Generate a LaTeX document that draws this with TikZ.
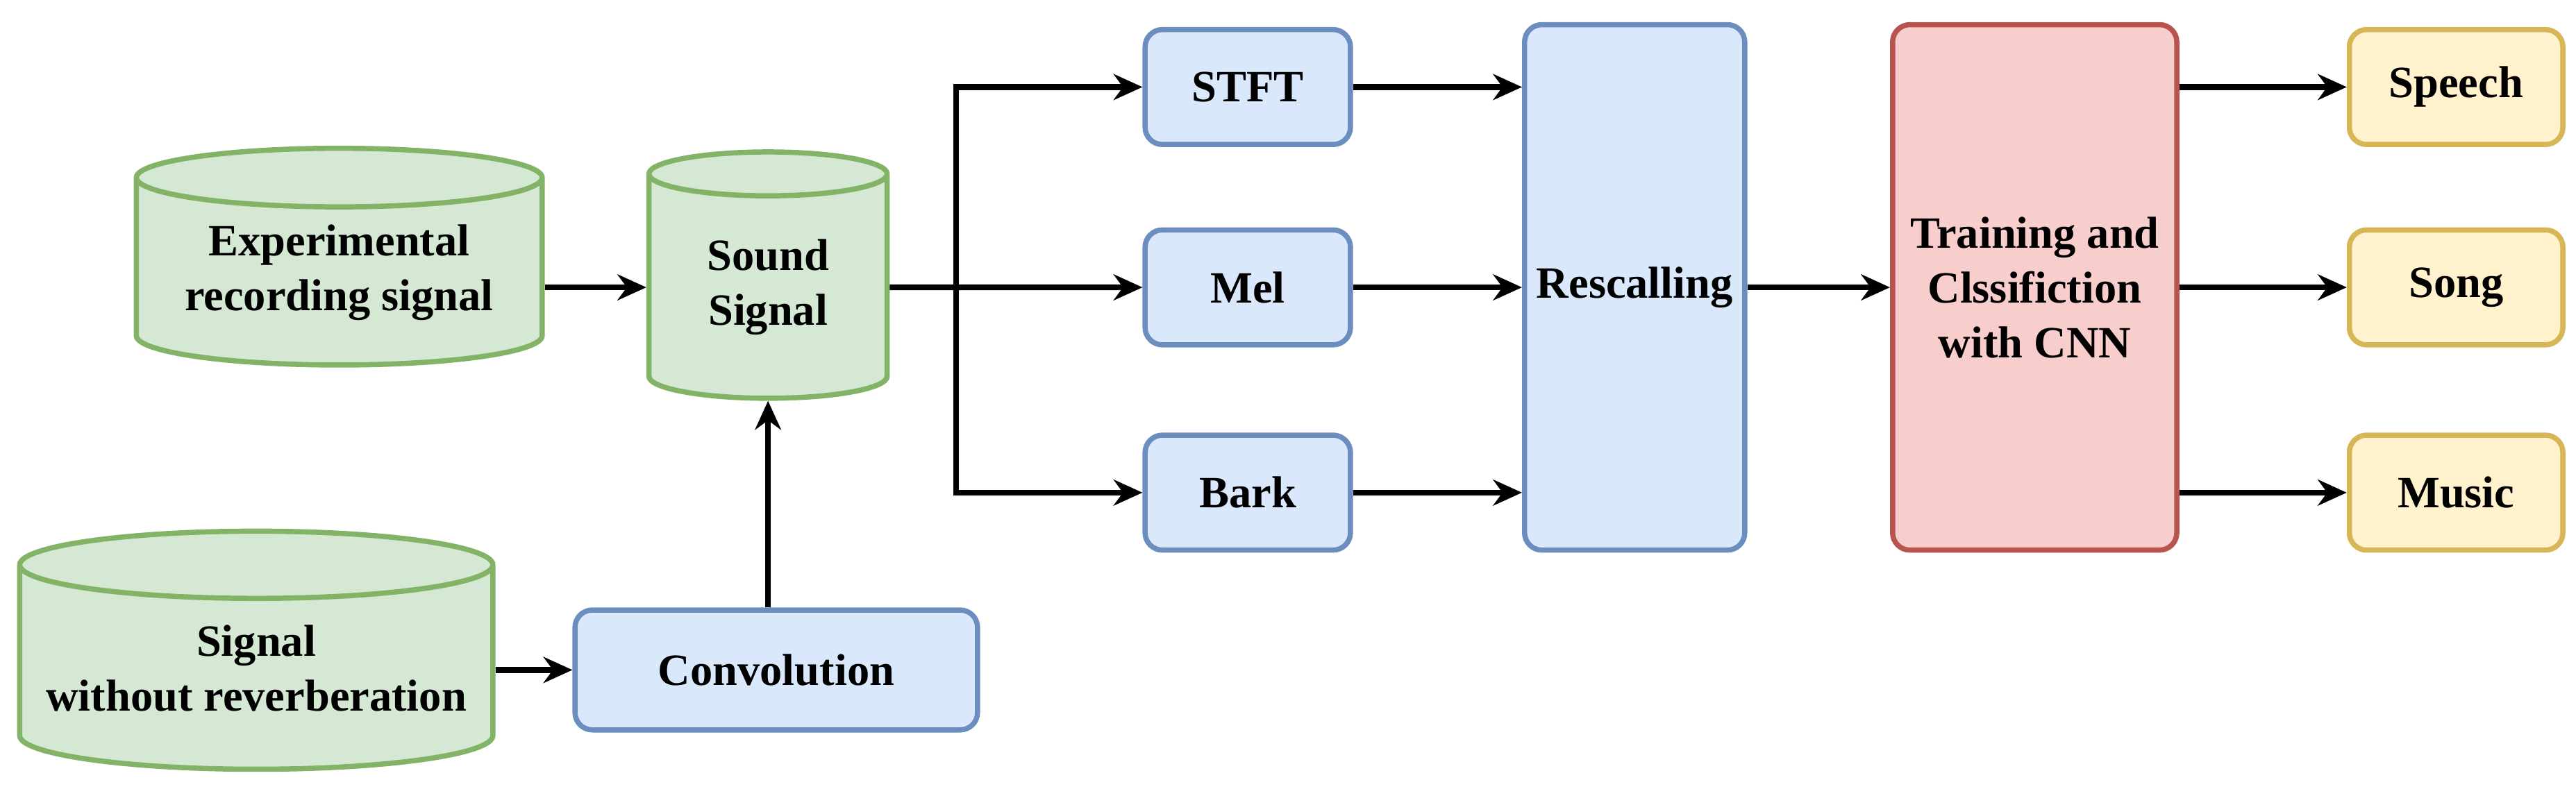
\documentclass[tikz,border=0pt]{standalone}
\usepackage{fontspec}
\setmainfont{Liberation Serif}
\usetikzlibrary{shapes.geometric,arrows.meta}
\definecolor{grfill}{HTML}{D5E8D4}\definecolor{grline}{HTML}{82B366}
\definecolor{blfill}{HTML}{DAE8FC}\definecolor{blline}{HTML}{6C8EBF}
\definecolor{rdfill}{HTML}{F8CECC}\definecolor{rdline}{HTML}{B85450}
\definecolor{yefill}{HTML}{FFF2CC}\definecolor{yeline}{HTML}{D6B656}
\tikzset{
  base/.style={line width=1.8pt, align=center, font=\fontsize{15.5}{19}\selectfont\bfseries, inner sep=0pt},
  store/.style={base, cylinder, shape border rotate=90, aspect=0.3, draw=grline, fill=grfill},
  proc/.style={base, rounded corners=6pt, draw=blline, fill=blfill},
  learn/.style={base, rounded corners=6pt, draw=rdline, fill=rdfill},
  cls/.style={base, rounded corners=6pt, draw=yeline, fill=yefill},
  flow/.style={line width=2pt, -{Stealth[length=10pt,width=9pt]}}
}
\begin{document}
\begin{tikzpicture}
    \useasboundingbox (0,0) rectangle (31.36,-9.8);
    % sources
    \node[store, aspect=0.19, minimum width=4.94cm, minimum height=2.64cm] (exp) at (4.13,-3.32) {Experimental\\recording signal};
    \node[store, aspect=0.36, minimum width=2.9cm, minimum height=3cm] (snd) at (9.35,-3.5) {Sound\\Signal};
    \node[store, aspect=0.16, minimum width=5.76cm, minimum height=2.9cm] (sig) at (3.12,-8.14) {Signal\\without reverberation};
    \node[proc, minimum width=4.9cm, minimum height=1.46cm] (conv) at (9.45,-8.16) {Convolution};
    % features
    \node[proc, minimum width=2.5cm, minimum height=1.4cm] (stft) at (15.19,-1.06) {STFT};
    \node[proc, minimum width=2.5cm, minimum height=1.4cm] (mel) at (15.19,-3.5) {Mel};
    \node[proc, minimum width=2.5cm, minimum height=1.4cm] (bark) at (15.19,-6.0) {Bark};
    \node[proc, minimum width=2.68cm, minimum height=6.4cm] (resc) at (19.9,-3.5) {Rescalling};
    \node[learn, minimum width=3.46cm, minimum height=6.4cm] (train) at (24.77,-3.5) {Training and\\Clssifiction\\with CNN};
    % classes
    \node[cls, minimum width=2.6cm, minimum height=1.4cm] (speech) at (29.9,-1.06) {Speech};
    \node[cls, minimum width=2.6cm, minimum height=1.4cm] (song) at (29.9,-3.5) {Song};
    \node[cls, minimum width=2.6cm, minimum height=1.4cm] (music) at (29.9,-6.0) {Music};
    \coordinate (split) at (11.64,-3.5);

    % connections
    \draw[flow] (exp.east |- snd.west) -- (snd.west);
    \draw[flow] (sig.east |- conv.west) -- (conv.west);
    \draw[flow] (conv.north -| snd.south) -- (snd.south);
    \draw[flow] (snd.east) -- (mel.west);
    \draw[flow] (split) |- (stft.west);
    \draw[flow] (split) |- (bark.west);
    \foreach \n in {stft,mel,bark} {
        \draw[flow] (\n.east) -- (\n.east -| resc.west);
    }
    \draw[flow] (resc.east) -- (train.west);
    \foreach \n in {speech,song,music} {
        \draw[flow] (train.east |- \n.west) -- (\n.west);
    }
\end{tikzpicture}
\end{document}
